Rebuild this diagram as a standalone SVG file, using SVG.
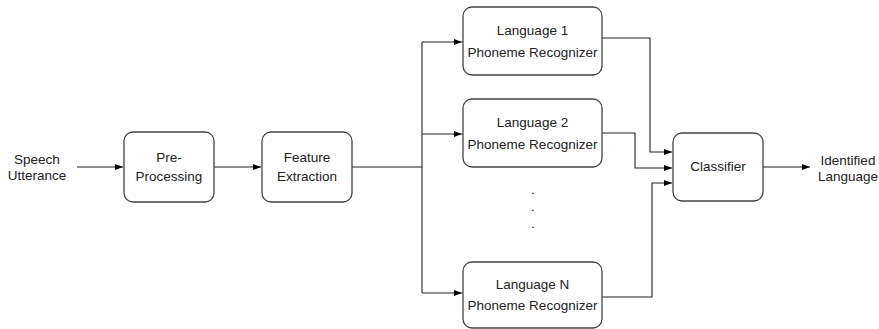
<svg xmlns="http://www.w3.org/2000/svg" width="879" height="329" viewBox="0 0 879 329">
<defs>
<marker id="arr" markerWidth="8" markerHeight="6" refX="8" refY="3" orient="auto" markerUnits="userSpaceOnUse">
<path d="M0,0 L8,3 L0,6 Z" fill="#000"/>
</marker>
<style>
.box{fill:#fff;stroke:#444;stroke-width:1.3}
.t{font-family:"Liberation Sans",Arial,sans-serif;font-size:13.5px;fill:#222;text-anchor:middle}
.ln{fill:none;stroke:#222;stroke-width:1.1}
</style>
</defs>
<rect width="879" height="329" fill="#fff"/>
<g id="connectors">
<path class="ln" d="M77,167 H123" marker-end="url(#arr)"/>
<path class="ln" d="M214,167 H261" marker-end="url(#arr)"/>
<path class="ln" d="M352,167 H422"/>
<path class="ln" d="M422,42 V293"/>
<path class="ln" d="M422,42 H462" marker-end="url(#arr)"/>
<path class="ln" d="M422,134 H462" marker-end="url(#arr)"/>
<path class="ln" d="M422,293 H462" marker-end="url(#arr)"/>
<path class="ln" d="M602,38 H650 V152 H672" marker-end="url(#arr)"/>
<path class="ln" d="M602,133 H635 V168 H672" marker-end="url(#arr)"/>
<path class="ln" d="M602,297 H652 V183 H672" marker-end="url(#arr)"/>
<path class="ln" d="M763,167 H810" marker-end="url(#arr)"/>
</g>
<g id="input">
<text class="t" x="37" y="164">Speech</text>
<text class="t" x="37" y="180">Utterance</text>
</g>
<g id="preprocessing">
<rect class="box" x="124" y="132" width="90" height="70" rx="9"/>
<text class="t" x="169" y="162">Pre-</text>
<text class="t" x="169" y="181">Processing</text>
</g>
<g id="feature">
<rect class="box" x="262" y="132" width="90" height="70" rx="9"/>
<text class="t" x="307" y="162">Feature</text>
<text class="t" x="307" y="181">Extraction</text>
</g>
<g id="lang1">
<rect class="box" x="463" y="7" width="139" height="68" rx="9"/>
<text class="t" x="532.5" y="35">Language 1</text>
<text class="t" x="532.5" y="57">Phoneme Recognizer</text>
</g>
<g id="lang2">
<rect class="box" x="463" y="99" width="139" height="68" rx="9"/>
<text class="t" x="532.5" y="127">Language 2</text>
<text class="t" x="532.5" y="149">Phoneme Recognizer</text>
</g>
<g id="dots">
<text class="t" x="533" y="194">.</text>
<text class="t" x="533" y="211">.</text>
<text class="t" x="533" y="228">.</text>
</g>
<g id="langN">
<rect class="box" x="463" y="262" width="139" height="66" rx="9"/>
<text class="t" x="532.5" y="289">Language N</text>
<text class="t" x="532.5" y="310">Phoneme Recognizer</text>
</g>
<g id="classifier">
<rect class="box" x="673" y="133" width="90" height="68" rx="9"/>
<text class="t" x="718" y="171">Classifier</text>
</g>
<g id="output">
<text class="t" x="848" y="165">Identified</text>
<text class="t" x="848" y="181">Language</text>
</g>
</svg>
